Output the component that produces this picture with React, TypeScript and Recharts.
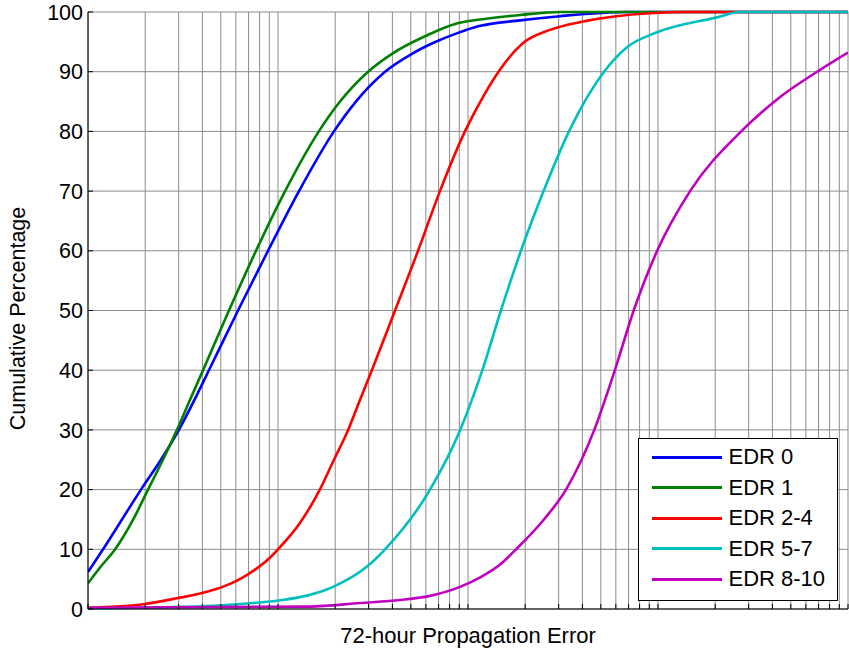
import { LineChart, Line, XAxis, YAxis, CartesianGrid, Legend, Label } from 'recharts';

const FONT = '"Liberation Sans", Arial, sans-serif';

// log x ticks (no labels drawn, only ticks + grid)
const X_TICKS = [
  1, 2, 3, 4, 5, 6, 7, 8, 9,
  10, 20, 30, 40, 50, 60, 70, 80, 90,
  100, 200, 300, 400, 500, 600, 700, 800, 900,
  1000, 2000, 3000, 4000, 5000, 6000, 7000, 8000, 9000,
  10000,
];
const Y_TICKS = [0, 10, 20, 30, 40, 50, 60, 70, 80, 90, 100];

// values
const EDR0_X = [1, 1.2, 1.51, 1.9, 2.42, 3.01, 3.63, 4.33, 6.16, 8.86, 12.9, 19.7, 25.7, 36.6, 50.7, 65.4, 88.6, 113, 188, 305, 687, 10000];
const EDR0_Y = [6.2, 10, 15, 20, 25, 30, 35, 40, 50, 60, 70, 80, 85, 90, 93, 94.8, 96.5, 97.6, 98.6, 99.3, 100, 100];

const EDR1_X = [1, 1.16, 1.39, 1.73, 2.07, 2.48, 2.94, 3.44, 4.03, 5.52, 7.66, 10.9, 16.4, 21.2, 29.8, 39.8, 60, 85.4, 113, 188, 305, 10000];
const EDR1_Y = [4.3, 7, 10, 15, 20, 25, 30, 35, 40, 50, 60, 70, 80, 85, 90, 93, 96, 98, 98.7, 99.5, 100, 100];

const EDR24_X = [1, 1.42, 1.95, 2.94, 3.89, 4.78, 5.59, 6.54, 7.57, 8.86, 10.2, 13.1, 16.6, 19.7, 23.4, 27, 31.2, 41.3, 54.6, 71.2, 96.4, 121, 147, 195, 270, 403, 908, 1474, 10000];
const EDR24_Y = [0.2, 0.4, 0.8, 1.8, 2.6, 3.4, 4.2, 5.3, 6.6, 8.3, 10.3, 14.5, 20, 25, 30, 35, 40, 50, 60, 70, 80, 86, 90.3, 94.8, 97, 98.4, 99.8, 100, 100];

const EDR57_X = [1, 4.23, 7.39, 10.6, 19.5, 29.4, 36.6, 63.1, 91, 119, 149, 190, 250, 340, 520, 687, 988, 2045, 2702, 10000];
const EDR57_Y = [0.1, 0.5, 1, 1.5, 3.7, 7.1, 10, 20, 30, 40, 50, 60, 70, 80, 90, 94.1, 96.6, 99.1, 100, 100];

const EDR810_X = [1, 14.7, 27, 43.9, 63.1, 90.8, 116, 147, 179, 251, 328, 462, 593, 745, 990, 1475, 2740, 4500, 7123, 10000];
const EDR810_Y = [0.2, 0.4, 1, 1.5, 2.2, 3.7, 5.3, 7.4, 10, 15, 20, 30, 40, 50, 60, 70, 80, 86, 90.3, 93.2];

const toPoints = (xs: number[], ys: number[]) => xs.map((x, i) => ({ x, y: ys[i] }));

const SERIES = [
  { name: 'EDR 0', color: '#0000ff', data: toPoints(EDR0_X, EDR0_Y) },
  { name: 'EDR 1', color: '#008000', data: toPoints(EDR1_X, EDR1_Y) },
  { name: 'EDR 2-4', color: '#ff0000', data: toPoints(EDR24_X, EDR24_Y) },
  { name: 'EDR 5-7', color: '#00bfbf', data: toPoints(EDR57_X, EDR57_Y) },
  { name: 'EDR 8-10', color: '#bf00bf', data: toPoints(EDR810_X, EDR810_Y) },
];

const renderLegend = (props: any) => (
  <div
    style={{
      width: 200,
      height: 163,
      boxSizing: 'border-box',
      border: '1.5px solid #000',
      background: '#fff',
      paddingTop: 3,
      fontFamily: FONT,
    }}
  >
    {(props.payload || []).map((p: any) => (
      <div key={p.value} style={{ display: 'flex', alignItems: 'center', height: 30.5 }}>
        <span style={{ display: 'inline-block', width: 70, height: 3, background: p.color, marginLeft: 12.5, marginRight: 7 }} />
        <span style={{ fontSize: 22, lineHeight: '22px', color: '#000' }}>{p.value}</span>
      </div>
    ))}
  </div>
);

const blank = () => '';

export default function App() {
  return (
    <div style={{ position: 'absolute', left: 0, top: 0, width: 849, height: 654, background: '#fff', fontFamily: FONT }}>
      <LineChart width={849} height={654} margin={{ top: 12, right: 1, bottom: 0, left: 0 }}>
        <CartesianGrid stroke="#8c8c8c" strokeWidth={1} />
        <XAxis
          type="number"
          dataKey="x"
          scale="log"
          domain={[1, 10000]}
          allowDataOverflow
          ticks={X_TICKS}
          interval={0}
          tickFormatter={blank}
          tickSize={-5}
          height={45}
          axisLine={{ stroke: '#000' }}
          tickLine={{ stroke: '#000' }}
        >
          <Label
            content={(props: any) => {
              const vb = props.viewBox || {};
              return (
                <text x={vb.x + vb.width / 2} y={643} textAnchor="middle" fontSize={22} fontFamily={FONT} fill="#000">
                  72-hour Propagation Error
                </text>
              );
            }}
          />
        </XAxis>
        <XAxis
          xAxisId="top"
          orientation="top"
          type="number"
          dataKey="x"
          scale="log"
          domain={[1, 10000]}
          allowDataOverflow
          ticks={X_TICKS}
          interval={0}
          tickFormatter={blank}
          tickSize={-5}
          height={0}
          axisLine={{ stroke: '#000' }}
          tickLine={{ stroke: '#000' }}
        />
        <YAxis
          type="number"
          domain={[0, 100]}
          ticks={Y_TICKS}
          interval={0}
          width={88}
          tickSize={-5}
          tickMargin={10}
          tick={{ fill: '#000', fontSize: 21.5, fontFamily: FONT }}
          axisLine={{ stroke: '#000' }}
          tickLine={{ stroke: '#000' }}
        >
          <Label
            content={(props: any) => {
              const vb = props.viewBox || {};
              const cy = vb.y + vb.height / 2 + 8;
              return (
                <text
                  x={25}
                  y={cy}
                  transform={`rotate(-90 25 ${cy})`}
                  textAnchor="middle"
                  fontSize={21.5}
                  fontFamily={FONT}
                  fill="#000"
                >
                  Cumulative Percentage
                </text>
              );
            }}
          />
        </YAxis>
        <YAxis
          yAxisId="r"
          orientation="right"
          type="number"
          domain={[0, 100]}
          ticks={Y_TICKS}
          interval={0}
          width={0}
          tickSize={-5}
          tickFormatter={blank}
          axisLine={{ stroke: '#000' }}
          tickLine={{ stroke: '#000' }}
        />
        {SERIES.map((s) => (
          <Line
            key={s.name}
            data={s.data}
            dataKey="y"
            name={s.name}
            type="monotone"
            stroke={s.color}
            strokeWidth={2.6}
            dot={false}
            activeDot={false}
            isAnimationActive={false}
          />
        ))}
        <Legend
          layout="vertical"
          align="center"
          verticalAlign="middle"
          content={renderLegend}
          wrapperStyle={{ left: 638, top: 438, width: 200, height: 163 }}
        />
      </LineChart>
    </div>
  );
}
